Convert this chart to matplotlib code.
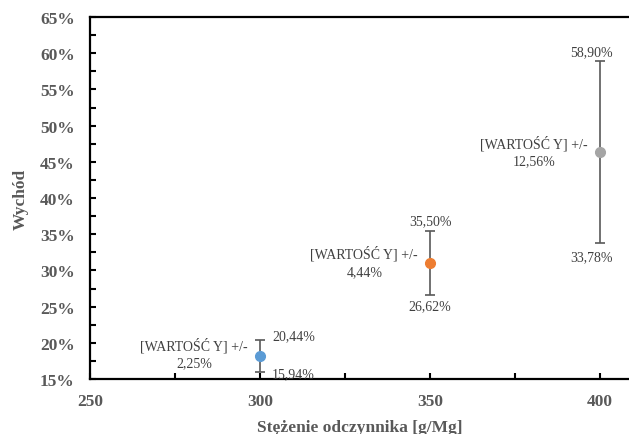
import matplotlib
matplotlib.use("Agg")
import matplotlib.pyplot as plt
from matplotlib.ticker import MultipleLocator, FuncFormatter

# Data
conc = [300, 350, 400]
mean_pct = [18.19, 31.06, 46.34]
err_pct = [2.25, 4.44, 12.56]
colors = ["#5B9BD5", "#ED7D31", "#A5A5A5"]
x_ticks = [250, 300, 350, 400]
y_ticks = [15, 20, 25, 30, 35, 40, 45, 50, 55, 60, 65]

plt.rcParams['font.family'] = ['Liberation Serif', 'DejaVu Serif']

W, H = 629, 435
fig = plt.figure(figsize=(W / 100, H / 100), dpi=100)
left, right, top, bottom = 90, 629, 18, 380
ax = fig.add_axes([left / W, 1 - bottom / H, (right - left) / W, (bottom - top) / H])

ax.errorbar(conc, mean_pct, yerr=err_pct, fmt='none', ecolor='#595959',
            elinewidth=1.2, capsize=3.5, capthick=1.2, zorder=2)
for xi, yi, c in zip(conc, mean_pct, colors):
    ax.plot([xi], [yi], 'o', color=c, markersize=7, zorder=3)

ax.set_xlim(250, 408.5)
ax.set_ylim(15, 65)
ax.set_xticks(x_ticks)
ax.set_yticks(y_ticks)
ax.xaxis.set_minor_locator(MultipleLocator(25))
ax.yaxis.set_minor_locator(MultipleLocator(2.5))
ax.yaxis.set_major_formatter(FuncFormatter(lambda v, p: f"{v:.0f}%"))

for s in ['left', 'bottom', 'top']:
    ax.spines[s].set_linewidth(1.6)
    ax.spines[s].set_color('black')
ax.spines['right'].set_visible(False)

ax.tick_params(which='both', direction='in', length=4, width=1.5, color='black')
ax.tick_params(axis='both', which='major', labelsize=12.5, labelcolor='#595959')
ax.tick_params(axis='x', which='major', pad=10)
ax.tick_params(axis='y', which='major', pad=11)
ax.tick_params(which='both', top=False, right=False)
for lab in ax.get_xticklabels() + ax.get_yticklabels():
    lab.set_fontweight('bold')

ax.set_xlabel("Stężenie odczynnika [g/Mg]", fontsize=12.5, fontweight='bold',
              color='#595959', labelpad=7)
ax.set_ylabel("Wychód", fontsize=12.5, fontweight='bold', color='#595959', labelpad=8)

def fmt(v):
    return f"{v:.2f}".replace('.', ',') + '%'

lab_kw = dict(textcoords='offset pixels', fontsize=10, color='#404040')

# label offsets (pixels)
hi_off = [(12, 4, 'left', 'center'), (0, 10, 'center', 'center'), (-9, 9, 'center', 'center')]
lo_off = [(12, -1, 'left', 'center'), (0, -11, 'center', 'center'), (-9, -14, 'center', 'center')]
mid_off = [(-12, 3), (-12, 1), (-12, 1)]

for i, (xi, yi, e) in enumerate(zip(conc, mean_pct, err_pct)):
    dx, dy, ha, va = hi_off[i]
    ax.annotate(fmt(yi + e), (xi, yi + e), xytext=(dx, dy), ha=ha, va=va, **lab_kw)
    dx, dy, ha, va = lo_off[i]
    ax.annotate(fmt(yi - e), (xi, yi - e), xytext=(dx, dy), ha=ha, va=va, **lab_kw)
    dx, dy = mid_off[i]
    ax.annotate("[WARTOŚĆ Y] +/-\n" + fmt(e), (xi, yi), xytext=(dx, dy),
                ha='right', va='center', multialignment='center',
                linespacing=1.4, **lab_kw)

fig.savefig("out.png", dpi=100)
